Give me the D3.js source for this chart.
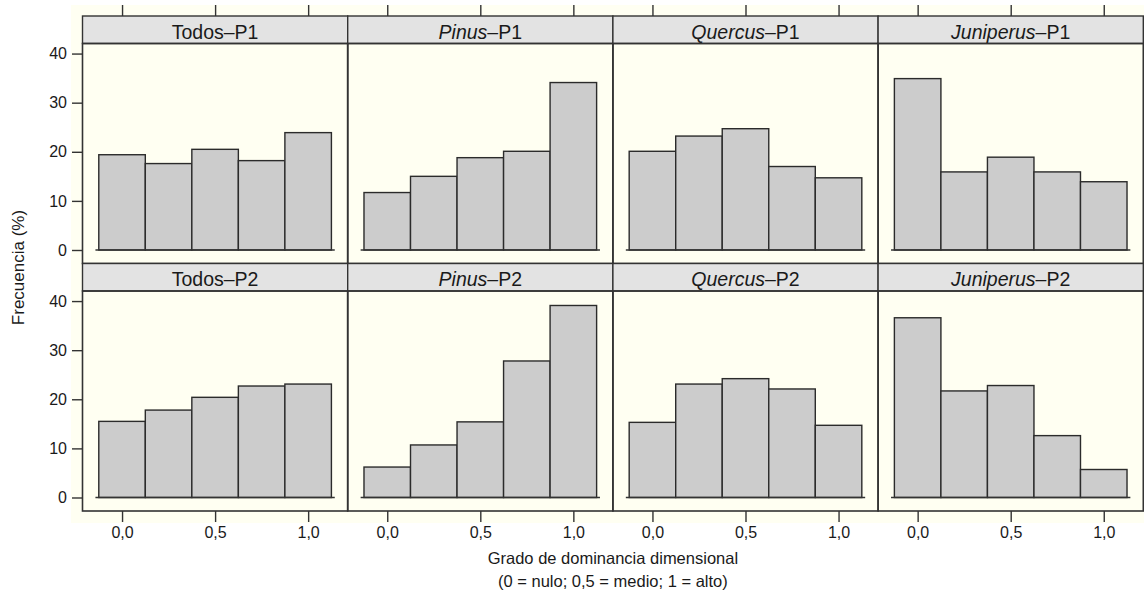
<!DOCTYPE html>
<html>
<head>
<meta charset="utf-8">
<script src="https://cdn.jsdelivr.net/npm/d3@7"></script>
<style>
  body { margin: 0; background: #fff; }
  svg { display: block; font-family: "Liberation Sans", Arial, Helvetica, sans-serif; }
  .tick text { font-size: 16px; fill: #1a1a1a; }
  .tick line { stroke: #333; stroke-width: 1.4; }
</style>
</head>
<body>
<svg id="chart"></svg>
<script>
// panel labels
const genera = ["Todos", "Pinus", "Quercus", "Juniperus"];
const generaItalic = [false, true, true, true];
const periods = ["P1", "P2"];

// histogram bins (centre of each class, width 0.25)
const binCenters = [0, 0.25, 0.5, 0.75, 1];
const binWidth = 0.25;

// frequencies (%)
const todosP1 = [19.4, 17.6, 20.5, 18.2, 23.9];
const pinusP1 = [11.7, 15.0, 18.8, 20.1, 34.1];
const quercusP1 = [20.1, 23.2, 24.7, 17.0, 14.7];
const juniperusP1 = [34.9, 15.9, 18.9, 15.9, 13.9];
const todosP2 = [15.5, 17.8, 20.4, 22.7, 23.1];
const pinusP2 = [6.2, 10.7, 15.4, 27.8, 39.1];
const quercusP2 = [15.3, 23.1, 24.2, 22.1, 14.7];
const juniperusP2 = [36.6, 21.7, 22.8, 12.6, 5.7];

const xTicks = [0, 0.5, 1];
const xTickLabels = ["0,0", "0,5", "1,0"];
const yTicks = [0, 10, 20, 30, 40];

const panelValues = [
  [todosP1, pinusP1, quercusP1, juniperusP1],
  [todosP2, pinusP2, quercusP2, juniperusP2]
];

const W = 1144, H = 594;
const marginLeft = 82.5, marginTop = 16;
const pw = 265.2;     // panel width
const sh = 27.5;      // strip height
const ph = 220;       // panel height

const svg = d3.select("#chart").attr("width", W).attr("height", H);

// ivory plotting background
svg.append("rect")
  .attr("x", 71).attr("y", 5)
  .attr("width", W - 71).attr("height", 518)
  .attr("fill", "#fffff2");

const x = d3.scaleLinear().domain([-0.2125, 1.2125]).range([0, pw]);
const y = d3.scaleLinear().domain([-2.75, 42.05]).range([ph, 0]);

periods.forEach((per, r) => {
  const rowTop = marginTop + r * (sh + ph);
  genera.forEach((gen, c) => {
    const g = svg.append("g")
      .attr("transform", `translate(${marginLeft + c * pw},${rowTop})`);

    // strip
    g.append("rect")
      .attr("width", pw).attr("height", sh)
      .attr("fill", "#e3e3e3")
      .attr("stroke", "#333").attr("stroke-width", 1.4);

    const label = g.append("text")
      .attr("x", pw / 2).attr("y", sh - 5)
      .attr("text-anchor", "middle")
      .attr("font-size", 19.5)
      .attr("fill", "#1a1a1a");
    label.append("tspan")
      .attr("font-style", generaItalic[c] ? "italic" : "normal")
      .text(gen);
    label.append("tspan").text("\u2013" + per);

    const panel = g.append("g").attr("transform", `translate(0,${sh})`);

    const vals = panelValues[r][c];

    panel.selectAll("rect.bar")
      .data(binCenters.map((b, i) => ({ b, v: vals[i] })))
      .join("rect")
      .attr("class", "bar")
      .attr("x", d => x(d.b - binWidth / 2))
      .attr("width", d => x(d.b + binWidth / 2) - x(d.b - binWidth / 2))
      .attr("y", d => y(d.v))
      .attr("height", d => y(0) - y(d.v))
      .attr("fill", "#cccccc")
      .attr("stroke", "#2b2b2b")
      .attr("stroke-width", 1.4);

    // zero line under the bars
    panel.append("line")
      .attr("x1", x(-0.143)).attr("x2", x(1.143))
      .attr("y1", y(0)).attr("y2", y(0))
      .attr("stroke", "#333").attr("stroke-width", 1.4);

    // panel frame
    panel.append("rect")
      .attr("width", pw).attr("height", ph)
      .attr("fill", "none")
      .attr("stroke", "#333").attr("stroke-width", 1.6);

    // top ticks (row 1 only, no labels)
    if (r === 0) {
      g.append("g")
        .call(d3.axisTop(x).tickValues(xTicks).tickSize(11).tickFormat(""))
        .call(a => a.select(".domain").remove());
    }
    // bottom axis (row 2)
    if (r === 1) {
      panel.append("g")
        .attr("transform", `translate(0,${ph})`)
        .call(d3.axisBottom(x).tickValues(xTicks).tickSize(11).tickPadding(5)
          .tickFormat((d, i) => xTickLabels[i]))
        .call(a => a.select(".domain").remove());
    }
    // left axis (first column)
    if (c === 0) {
      panel.append("g")
        .call(d3.axisLeft(y).tickValues(yTicks).tickSize(10.5).tickPadding(5))
        .call(a => a.select(".domain").remove());
    }
  });
});

// axis titles
svg.append("text")
  .attr("transform", `translate(24,${(marginTop * 2 + 2 * (sh + ph)) / 2 + 4}) rotate(-90)`)
  .attr("text-anchor", "middle")
  .attr("font-size", 17)
  .attr("fill", "#1a1a1a")
  .text("Frecuencia (%)");

const cx = marginLeft + 2 * pw;
svg.append("text")
  .attr("x", cx).attr("y", 564)
  .attr("text-anchor", "middle")
  .attr("font-size", 16.5)
  .attr("fill", "#1a1a1a")
  .text("Grado de dominancia dimensional");
svg.append("text")
  .attr("x", cx).attr("y", 587)
  .attr("text-anchor", "middle")
  .attr("font-size", 16.5)
  .attr("fill", "#1a1a1a")
  .text("(0 = nulo; 0,5 = medio; 1 = alto)");
</script>
</body>
</html>
